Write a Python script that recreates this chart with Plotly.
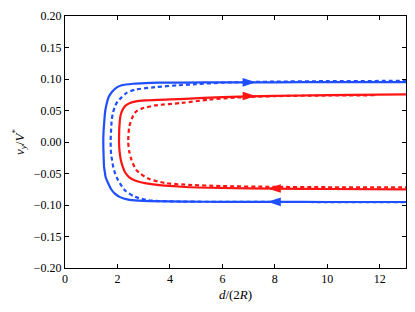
import plotly.graph_objects as go

# ---- data ----
blue_solid_x = [13.3, 10, 8, 6, 4.57, 3.6, 3.05, 2.6, 2.16, 1.95, 1.78, 1.66, 1.59, 1.53, 1.50, 1.47, 1.46,
                1.47, 1.49, 1.52, 1.55, 1.65, 1.76, 1.9, 2.1, 2.41, 2.8, 3.2, 4.57, 6, 8, 10, 13.3]
blue_solid_y = [0.0952, 0.0950, 0.0948, 0.0946, 0.0944, 0.0941, 0.0936, 0.0925, 0.0900, 0.0860, 0.0790, 0.0710,
                0.0610, 0.0480, 0.0340, 0.0170, 0.0,
                -0.0200, -0.0400, -0.0480, -0.0560, -0.0660, -0.0750, -0.0820, -0.0875, -0.0915, -0.0932,
                -0.0940, -0.0946, -0.0950, -0.0951, -0.0952, -0.0952]

blue_dash_x = [13.3, 10, 8, 6, 5, 4.32, 3.43, 2.67, 2.35, 2.16, 2.0, 1.90, 1.82, 1.78, 1.74,
               1.76, 1.80, 1.84, 1.92, 2.03, 2.29, 2.67, 3.17, 4.0, 6, 8, 10, 13.3]
blue_dash_y = [0.0970, 0.0966, 0.0958, 0.0942, 0.0918, 0.0900, 0.0870, 0.0830, 0.0780, 0.0710, 0.0640, 0.0560,
               0.0450, 0.0340, 0.0,
               -0.0200, -0.0300, -0.0400, -0.0510, -0.0610, -0.0770, -0.0870, -0.0925, -0.0942, -0.0950,
               -0.0952, -0.0953, -0.0953]

red_solid_x = [13.3, 10, 8, 6, 4.57, 3.05, 2.7, 2.48, 2.32, 2.22, 2.13, 2.09, 2.06,
               2.08, 2.13, 2.2, 2.29, 2.45, 2.67, 3.3, 4.57, 6, 8, 10, 13.3]
red_solid_y = [0.0757, 0.0743, 0.0732, 0.0712, 0.0685, 0.0660, 0.0645, 0.0620, 0.0580, 0.0530, 0.0440,
               0.0340, 0.0,
               -0.0150, -0.0290, -0.0390, -0.0480, -0.0560, -0.0610, -0.0670, -0.0714, -0.0730,
               -0.0740, -0.0746, -0.0752]

red_dash_x = [11.8, 10, 8, 6.5, 5.5, 4.44, 3.43, 2.92, 2.70, 2.6, 2.45, 2.41,
              2.45, 2.54, 2.73, 3.17, 3.81, 4.57, 6, 8, 10, 13.3]
red_dash_y = [0.0742, 0.0738, 0.0728, 0.0705, 0.0672, 0.0620, 0.0580, 0.0530, 0.0480, 0.0420, 0.0240, 0.0,
              -0.0150, -0.0290, -0.0450, -0.0580, -0.0650, -0.0677, -0.0700, -0.0712, -0.0718, -0.0722]

arrow_x = [7.28, 7.28, 7.72, 7.72]
arrow_y = [0.0947, 0.0730, -0.0950, -0.0738]
arrow_dir = [90, 90, -90, -90]
arrow_col = ["blue", "red", "blue", "red"]

x_ticks = [0, 2, 4, 6, 8, 10, 12]
y_ticks = [-0.20, -0.15, -0.10, -0.05, 0.00, 0.05, 0.10, 0.15, 0.20]

BLUE = "#1f4fff"
RED = "#ff1414"
colmap = {"blue": BLUE, "red": RED}

fig = go.Figure()
for xs, ys, c, dash in [
    (blue_dash_x, blue_dash_y, BLUE, "4px,3px"),
    (blue_solid_x, blue_solid_y, BLUE, "solid"),
    (red_dash_x, red_dash_y, RED, "4px,3px"),
    (red_solid_x, red_solid_y, RED, "solid"),
]:
    fig.add_trace(go.Scatter(x=xs, y=ys, mode="lines",
                             line=dict(color=c, width=2.2, dash=dash, shape="spline", smoothing=0.7),
                             showlegend=False, hoverinfo="skip"))

fig.add_trace(go.Scatter(
    x=arrow_x, y=arrow_y, mode="markers", showlegend=False, hoverinfo="skip",
    marker=dict(symbol="arrow", angle=arrow_dir, size=14,
                color=[colmap[c] for c in arrow_col], line=dict(width=0)),
))

font = "Liberation Serif"
axis_common = dict(
    showgrid=False, zeroline=False, showline=True, linecolor="black", linewidth=1,
    mirror="allticks", ticks="inside", ticklen=4, tickcolor="black",
    tickfont=dict(family=font, size=12, color="black"),
)
fig.update_xaxes(range=[0, 13], tickvals=x_ticks, ticktext=[str(v) for v in x_ticks],
                 title=dict(text="<i>d</i>/(2<i>R</i>)", font=dict(family=font, size=13, color="black"), standoff=4),
                 **axis_common)
fig.update_yaxes(range=[-0.20, 0.20], tickvals=y_ticks,
                 ticktext=[("\u2212" if v < 0 else "") + f"{abs(v):.2f}" for v in y_ticks],
                 title=dict(text="<i>v<sub>y</sub></i>/<i>V</i><sup>*</sup>", font=dict(family=font, size=13, color="black"), standoff=6),
                 **axis_common)

# page body has an 8px margin: size the figure so it fits in the 415x312 window
fig.update_layout(
    width=399, height=296,
    margin=dict(l=57, r=1, t=8, b=36, autoexpand=False),
    font=dict(family=font, color="black"),
    plot_bgcolor="white", paper_bgcolor="white",
)
fig.write_html("out.html")
